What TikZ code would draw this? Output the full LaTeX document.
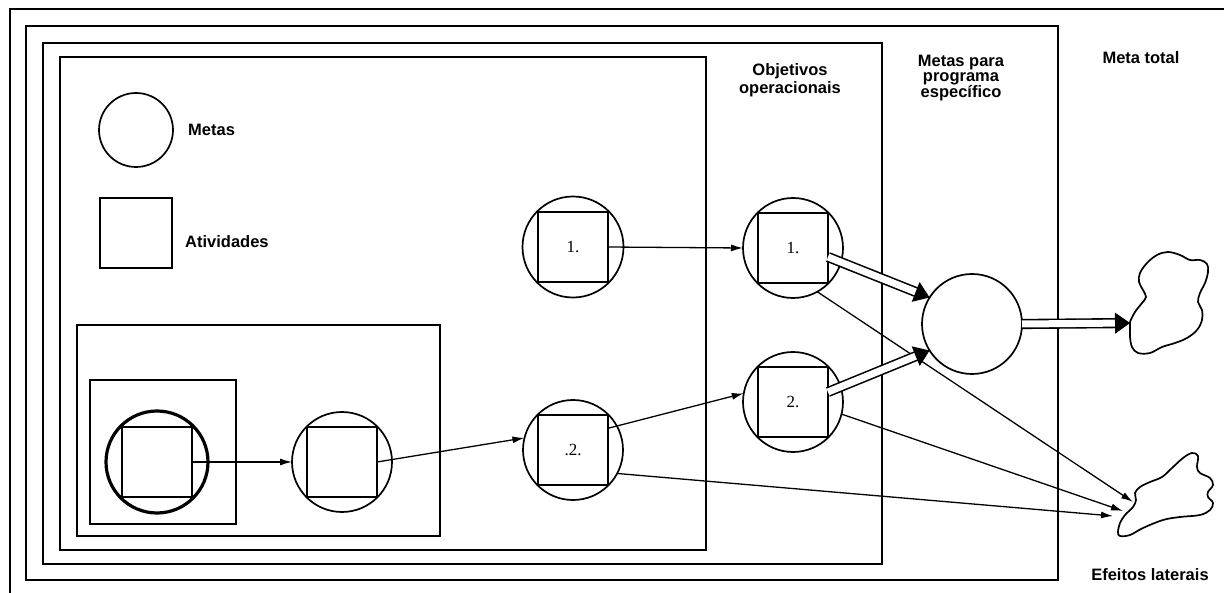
\documentclass[tikz,border=0pt]{standalone}
\usepackage{fontspec}
\setmainfont{Liberation Sans}
\newfontfamily\numfont{Liberation Serif}
\usetikzlibrary{arrows.meta,calc}

\tikzset{
  frame/.style={draw, line width=1.8pt},
  goal/.style={circle, draw, line width=1.7pt, minimum size=#1, inner sep=0pt, outer sep=0pt},
  actsq/.style={rectangle, draw, line width=1.8pt, minimum size=#1, inner sep=0pt, outer sep=0pt,
                font=\numfont\fontsize{17}{18}\selectfont},
  lbl/.style={font=\bfseries\fontsize{16.5}{15}\selectfont, inner sep=0pt},
  arr/.style={-{Latex[length=12pt,width=7pt]}, line width=1.3pt},
  dbl/.style={double, double distance=7pt, line width=1.6pt, shorten >=13pt},
  dtip/.style={-{Triangle[length=15pt,width=21pt]}, line width=1pt},
  blob/.style={draw, line width=1.7pt},
}
% double-line arrow with a solid triangular head
\newcommand\dblarrow[2]{%
  \draw[dbl] (#1) -- (#2);
  \draw[dtip] ($(#2)!15pt!(#1)$) -- (#2);
}

\begin{document}
\begin{tikzpicture}[x=1pt,y=-1pt]
\useasboundingbox (0,0) rectangle (1224,593);

% nested frames
\draw[frame] (1224,9) -- (10,9) -- (10,593);
\draw[frame] (26,26) rectangle (1058,580);
\draw[frame] (43,43) rectangle (882,564);
\draw[frame] (60,57) rectangle (706,550);
\draw[frame] (77,325) rectangle (440,536);
\draw[frame] (90,380) rectangle (236,524);

% legend
\node[goal=74pt] (lg) at (136,130) {};
\node[lbl, anchor=west] (tmetas) at (188,130) {Metas};
\node[rectangle, draw, line width=1.8pt, minimum width=72pt, minimum height=70pt] (la) at (136,233) {};
\node[lbl, anchor=west] (tativ) at (185,242) {Atividades};

% goals with their activities
\node[goal=102pt, line width=3.2pt] (c1) at (157,462) {};
\node[actsq=70pt] (s1) at (c1) {};
\node[goal=100pt] (c2) at (342,462) {};
\node[actsq=70pt] (s2) at (c2) {};
\node[goal=101pt] (c3) at (573,247) {};
\node[actsq=70pt] (s3) at (c3) {1.};
\node[goal=100pt] (c4) at (573,450) {};
\node[actsq=70pt] (s4) at (c4) {.2.};
\node[goal=100pt] (c5) at (793,248) {};
\node[actsq=70pt] (s5) at (c5) {1.};
\node[goal=100pt] (c6) at (793,402) {};
\node[actsq=70pt] (s6) at (c6) {2.};
\node[goal=100pt] (c7) at (972,324) {};

% headings
\node[lbl, align=center, font=\bfseries\fontsize{16.5}{18.5}\selectfont] (tobj) at (790,80) {Objetivos\\operacionais};
\node[lbl, align=center] (tprog) at (961,78) {Metas para\\programa\\específico};
\node[lbl] (ttot) at (1141,58) {Meta total};
\node[lbl] (tlat) at (1150,575) {Efeitos laterais};

% total goal
\draw[blob] plot[smooth cycle, tension=0.6] coordinates {
  (1130,322) (1135,312) (1142,303) (1146,297) (1143,290) (1139,282)
  (1140,273) (1147,263) (1157,255) (1168,252) (1180,255) (1190,260)
  (1200,260) (1207,264) (1208,272) (1205,283) (1200,293) (1198,302)
  (1202,310) (1202,320) (1197,330) (1187,338) (1175,343) (1162,347)
  (1150,353) (1138,353) (1132,347) (1130,337) (1130,327)};
% side effects
\draw[blob] plot[smooth cycle, tension=0.6] coordinates {
  (1118,532) (1120,523) (1125,515) (1133,507) (1136,500) (1135,493)
  (1140,487) (1150,482) (1162,477) (1172,468) (1183,458) (1192,453)
  (1198,456) (1197,467) (1200,473) (1210,478) (1213,485) (1208,492)
  (1208,497) (1213,503) (1210,510) (1200,515) (1180,517) (1163,520)
  (1143,528) (1130,535) (1120,536)};

\coordinate (mt) at (1130,323);
\coordinate (e1) at (1133,502);
\coordinate (e2) at (1123,511);
\coordinate (e3) at (1113,516);

% flows between activities and goals
\draw[arr] (s1.east) -- (c2.west);
\draw[arr] (s2.east) -- (c4.166);
\draw[arr] (s3.east) -- (c5.west);
\draw[arr] ($(s4.north east)!0.19!(s4.south east)$) -- (c6.170);

% side effects
\draw[arr] (c4.-28) -- (e3);
\draw[arr] (c6.-14) -- (e2);
\draw[arr] (c5.-61) -- (e1);

% contributions to program goal and total goal
\coordinate (u1) at ($(s5.east)+(0,9)$);
\coordinate (u2) at ($(s6.east)+(0,-10)$);
\dblarrow{u1}{c7.148}
\dblarrow{u2}{c7.212}
\dblarrow{c7.east}{mt}
\end{tikzpicture}
\end{document}
